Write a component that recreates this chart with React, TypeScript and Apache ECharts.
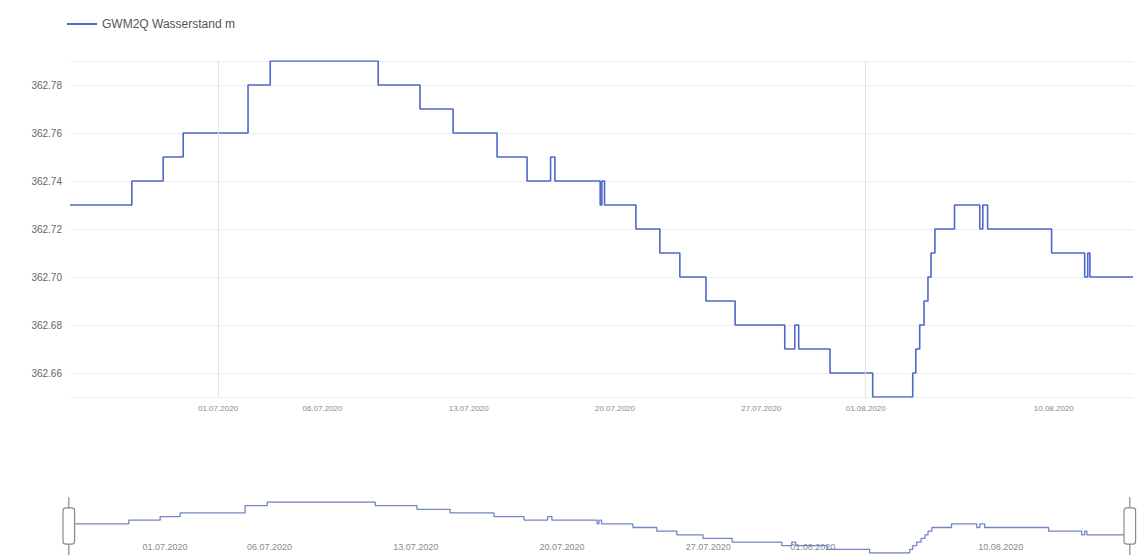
import React, { useEffect, useRef } from "react";
import * as echarts from "echarts";

const seriesName = "GWM2Q Wasserstand m";

// step change points: time at which the level becomes the value
const changeTimes = [
  "23.06.2020 22:00", "26.06.2020 21:00", "28.06.2020 09:00", "29.06.2020 08:00",
  "02.07.2020 10:30", "03.07.2020 12:00", "08.07.2020 16:00", "10.07.2020 16:00",
  "12.07.2020 06:00", "14.07.2020 08:30", "15.07.2020 19:00", "16.07.2020 22:00",
  "17.07.2020 03:00", "19.07.2020 07:00", "19.07.2020 09:00", "19.07.2020 12:00",
  "21.07.2020 00:00", "22.07.2020 03:30", "23.07.2020 02:30", "24.07.2020 08:30",
  "25.07.2020 18:00", "28.07.2020 03:00", "28.07.2020 14:30", "28.07.2020 19:00",
  "30.07.2020 07:00", "01.08.2020 08:00", "03.08.2020 06:00", "03.08.2020 09:30",
  "03.08.2020 14:00", "03.08.2020 19:00", "03.08.2020 23:30", "04.08.2020 03:00",
  "04.08.2020 07:30", "05.08.2020 06:00", "06.08.2020 11:00", "06.08.2020 14:30",
  "06.08.2020 20:00", "09.08.2020 21:30", "11.08.2020 11:30", "11.08.2020 15:00",
  "11.08.2020 17:30", "13.08.2020 19:00",
];
const levels = [
  362.73, 362.74, 362.75, 362.76,
  362.78, 362.79, 362.78, 362.77,
  362.76, 362.75, 362.74, 362.75,
  362.74, 362.73, 362.74, 362.73,
  362.72, 362.71, 362.70, 362.69,
  362.68, 362.67, 362.68, 362.67,
  362.66, 362.65, 362.66, 362.67,
  362.68, 362.69, 362.70, 362.71,
  362.72, 362.73, 362.72, 362.73,
  362.72, 362.71, 362.70, 362.71,
  362.70, 362.70,
];

const axisStart = "23.06.2020 22:00";
const axisEnd = "13.08.2020 19:00";
const yMin = 362.65;
const yMax = 362.79;

const tickLabelDates = [
  "01.07.2020 00:00", "06.07.2020 00:00", "13.07.2020 00:00", "20.07.2020 00:00",
  "27.07.2020 00:00", "01.08.2020 00:00", "10.08.2020 00:00",
];
const monthStarts = ["01.07.2020 00:00", "01.08.2020 00:00"];

function parse(s: string): number {
  const [d, t] = s.split(" ");
  const [dd, mm, yy] = d.split(".").map(Number);
  const [hh, mi] = t.split(":").map(Number);
  return new Date(yy, mm - 1, dd, hh, mi).getTime();
}
function fmt(v: number): string {
  const d = new Date(v);
  const p = (n: number) => (n < 10 ? "0" + n : "" + n);
  return p(d.getDate()) + "." + p(d.getMonth() + 1) + "." + d.getFullYear();
}

export default function App() {
  const ref = useRef<HTMLDivElement>(null);
  useEffect(() => {
    if (!ref.current) return;
    const chart = echarts.init(ref.current, undefined, { renderer: "svg" });
    const data = changeTimes.map((t, i) => [parse(t), levels[i]]);
    const tmin = parse(axisStart);
    const tmax = parse(axisEnd);
    const labelVals = tickLabelDates.map(parse);
    chart.setOption({
      animation: false,
      backgroundColor: "#ffffff",
      legend: {
        left: 62,
        top: 13,
        itemWidth: 30,
        itemHeight: 2,
        icon: "rect",
        itemGap: 6,
        textStyle: { color: "#555", fontSize: 12, fontFamily: "Liberation Sans, Arial, sans-serif" },
        data: [seriesName],
      },
      grid: [
        { left: 70, right: 4, top: 61, height: 336 },
        { left: 67, right: 7, top: 502, height: 51 },
        { left: 17, right: 57, top: 500, height: 38 },
      ],
      xAxis: [
        {
          type: "value",
          gridIndex: 0,
          min: tmin,
          max: tmax,
          axisLine: { show: false },
          axisTick: { show: false },
          splitLine: { show: false },
          axisLabel: {
            customValues: labelVals,
            formatter: (v: number) => fmt(v),
            fontSize: 8,
            color: "#8a8a8a",
            margin: 7,
          },
        },
        {
          type: "value",
          gridIndex: 1,
          min: tmin,
          max: tmax,
          show: false,
        },
        {
          type: "value",
          gridIndex: 2,
          min: tmin,
          max: tmax,
          axisLine: { show: false },
          axisTick: { show: false },
          splitLine: { show: false },
          axisLabel: {
            customValues: labelVals,
            formatter: (v: number) => fmt(v),
            fontSize: 9,
            color: "#8a8a8a",
            margin: 4,
          },
        },
      ],
      yAxis: [
        {
          type: "value",
          gridIndex: 0,
          min: yMin,
          max: yMax,
          splitNumber: 7,
          axisLine: { show: false },
          axisTick: { show: false },
          splitLine: { lineStyle: { color: "#eeeeee" } },
          axisLabel: {
            formatter: (v: number) => v.toFixed(2),
            showMinLabel: false,
            showMaxLabel: false,
            fontSize: 10,
            color: "#666",
            margin: 8,
          },
        },
        { type: "value", gridIndex: 1, min: yMin, max: yMax, show: false },
        { type: "value", gridIndex: 2, min: 0, max: 1, show: false },
      ],
      dataZoom: [
        {
          type: "slider",
          xAxisIndex: [0, 1],
          left: 67,
          right: 7,
          top: 497,
          height: 58,
          start: 0,
          end: 100,
          showDataShadow: false,
          showDetail: false,
          brushSelect: false,
          moveHandleSize: 0,
          borderColor: "transparent",
          fillerColor: "rgba(0,0,0,0)",
          backgroundColor: "rgba(0,0,0,0)",
          handleIcon:
            "path://M-9.35,34.56V42m0-40V9.5m-2,0h4a2,2,0,0,1,2,2v21a2,2,0,0,1-2,2h-4a2,2,0,0,1-2-2v-21A2,2,0,0,1-11.35,9.5Z",
          handleSize: "100%",
          handleStyle: { color: "#ffffff", borderColor: "#8a8a8a", borderWidth: 1.2 },
        },
      ],
      series: [
        {
          name: seriesName,
          type: "line",
          xAxisIndex: 0,
          yAxisIndex: 0,
          step: "end",
          symbol: "none",
          data,
          lineStyle: { color: "#4f67c8", width: 1.6 },
          itemStyle: { color: "#4f67c8" },
          markLine: {
            silent: true,
            symbol: "none",
            label: { show: false },
            lineStyle: { color: "#e2e2e2", width: 1, type: "solid" },
            data: monthStarts.map((m) => ({ xAxis: parse(m) })),
          },
        },
        {
          name: "mini",
          type: "line",
          xAxisIndex: 1,
          yAxisIndex: 1,
          step: "end",
          symbol: "none",
          data,
          lineStyle: { color: "#7484c9", width: 1.3 },
          itemStyle: { color: "#7484c9" },
        },
      ],
    });
    return () => chart.dispose();
  }, []);
  return (
    <div
      ref={ref}
      style={{ position: "absolute", left: 0, top: 0, width: 1137, height: 559 }}
    />
  );
}
